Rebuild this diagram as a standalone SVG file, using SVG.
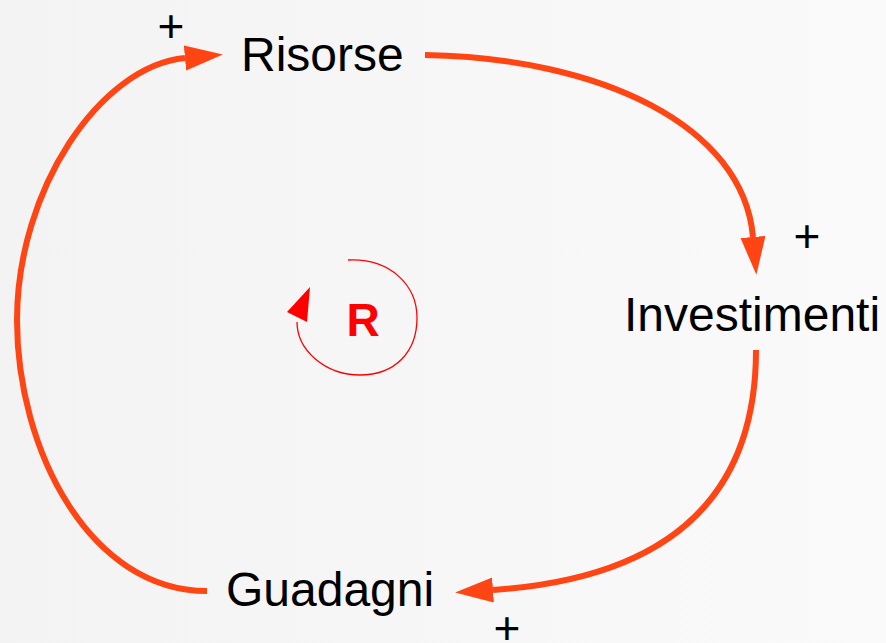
<svg xmlns="http://www.w3.org/2000/svg" width="886" height="643" viewBox="0 0 886 643">
  <defs>
    <linearGradient id="bg" x1="0" y1="0" x2="1" y2="0">
      <stop offset="0" stop-color="#f3f3f3"/>
      <stop offset="1" stop-color="#fafafa"/>
    </linearGradient>
    <marker id="head" markerUnits="userSpaceOnUse" markerWidth="40" markerHeight="26" refX="0" refY="12.5" orient="auto" viewBox="0 0 40 26">
      <path d="M0,0 L38,12.5 L0,25 Z" fill="#ff4513"/>
    </marker>
  </defs>
  <style>
    .lbl { font-family: "Liberation Sans", Arial, sans-serif; font-size: 48px; fill: #000; }
    .sign { font-family: "Liberation Sans", Arial, sans-serif; font-size: 46px; fill: #000; text-anchor: middle; }
    .link { fill: none; stroke: #ff4513; stroke-width: 6; marker-end: url(#head); }
    .loop { fill: none; stroke: #ff0000; stroke-width: 1.3; }
    .loopR { font-family: "Liberation Sans", Arial, sans-serif; font-size: 46px; font-weight: bold; fill: #ff0000; text-anchor: middle; }
  </style>
  <rect x="0" y="0" width="886" height="643" fill="url(#bg)"/>

  <g id="connectors">
    <path class="link" d="M425,55 C600,58 743,125 753,237"/>
    <path class="link" d="M756,350 C756,520 640,580 493,590"/>
    <path class="link" d="M207,591 C90,591 17,450 17,320 C17,190 100,66 185,58"/>
  </g>

  <g id="node-risorse">
    <text class="lbl" x="241" y="71">Risorse</text>
    <text class="sign" x="171" y="42">+</text>
  </g>
  <g id="node-investimenti">
    <text class="lbl" x="624" y="331">Investimenti</text>
    <text class="sign" x="807" y="252">+</text>
  </g>
  <g id="node-guadagni">
    <text class="lbl" x="226" y="606">Guadagni</text>
    <text class="sign" x="507" y="644">+</text>
  </g>

  <g id="loop-R">
    <path class="loop" d="M348,260 C390,258 417,285 417,318 C417,352 395,375 360,375 C325,375 297,350 297,322"/>
    <polygon points="287,312 310,287 307,322" fill="#ff0000"/>
    <text class="loopR" x="363" y="336">R</text>
  </g>
</svg>
